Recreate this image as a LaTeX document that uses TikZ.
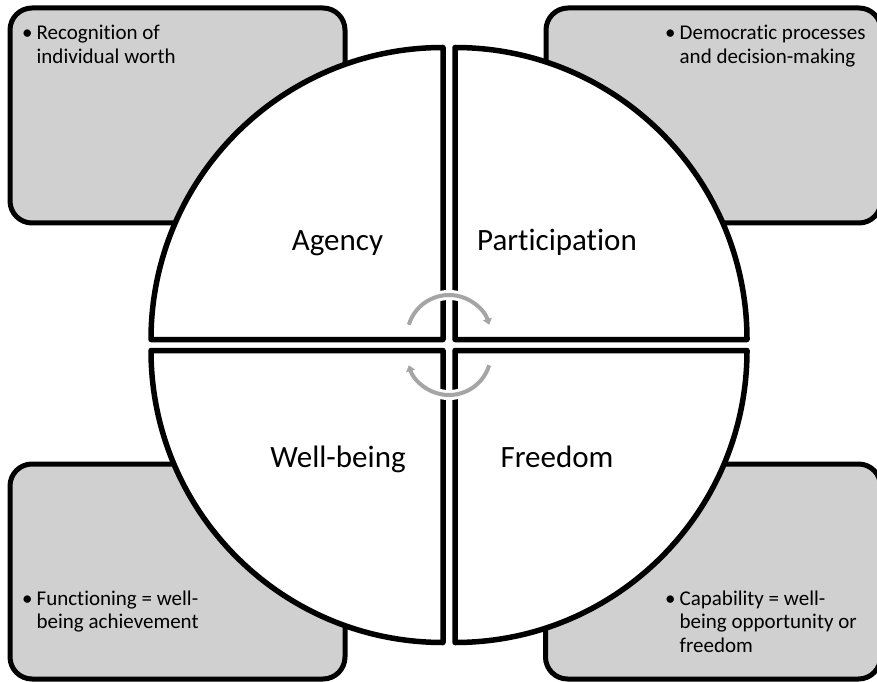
\documentclass[tikz,border=0pt]{standalone}
\usepackage{fontspec}
\setmainfont{Carlito}[Ligatures={NoCommon,NoContextual}]
\usetikzlibrary{arrows.meta}
\definecolor{boxgray}{RGB}{208,208,208}
\definecolor{arrowgray}{RGB}{165,165,165}
\begin{document}
\begin{tikzpicture}[x=1pt,y=1pt,
  infobox/.style={draw=black, fill=boxgray, line width=5pt, rounded corners=22pt, minimum width=335pt, minimum height=215pt, inner sep=0pt},
  quad/.style={draw=black, fill=white, line width=5.5pt, line join=round},
  qlabel/.style={font=\fontsize{31}{36}\selectfont, anchor=base},
  btext/.style={font=\fontsize{21}{23.5}\selectfont, anchor=base west, inner sep=0pt},
  casing/.style={draw=white, line width=10pt},
  cyclearrow/.style={draw=arrowgray, line width=4pt, -{Triangle[length=6pt,width=9pt]}}
]
\useasboundingbox (0,0) rectangle (877,681);
% grey boxes
\node[infobox] (tl) at (177.5,565.5) {};
\node[infobox] (tr) at (713.5,565.5) {};
\node[infobox] (bl) at (177.5,109.5) {};
\node[infobox] (br) at (713,109.5) {};
% quadrants
\draw[quad] (443,341.5) -- ++(-292,0) arc[start angle=180, end angle=90, radius=292pt] -- cycle;
\draw[quad] (455,341.5) -- ++(0,292) arc[start angle=90, end angle=0, radius=292pt] -- cycle;
\draw[quad] (443,330.5) -- ++(0,-292) arc[start angle=270, end angle=180, radius=292pt] -- cycle;
\draw[quad] (455,330.5) -- ++(292,0) arc[start angle=0, end angle=-90, radius=292pt] -- cycle;
% quadrant labels
\node[qlabel] (agency) at (337.5,431) {Agency};
\node[qlabel] (participation) at (557,431) {Participation};
\node[qlabel] (wellbeing) at (338,214) {Well-being};
\node[qlabel] (freedom) at (557,214) {Freedom};
% box texts
\node[btext] (tltext) at (22,641) {\begin{tabular}[t]{@{}l@{\hspace{4pt}}l@{}}•&Recognition of\\&individual worth\end{tabular}};
\node[btext] (trtext) at (665,641) {\begin{tabular}[t]{@{}l@{\hspace{4pt}}l@{}}•&Democratic processes\\&and decision-making\end{tabular}};
\node[btext] (bltext) at (22,76) {\begin{tabular}[t]{@{}l@{\hspace{4pt}}l@{}}•&Functioning = well-\\&being achievement\end{tabular}};
\node[btext] (brtext) at (665,76) {\begin{tabular}[t]{@{}l@{\hspace{4pt}}l@{}}•&Capability = well-\\&being opportunity or\\&freedom\end{tabular}};
% cycle arrows
\coordinate (c1) at (449,344);
\coordinate (c2) at (449,328);
\draw[casing] ([shift={(163:42pt)}]c1) arc[start angle=163, end angle=17, radius=42pt];
\draw[cyclearrow] ([shift={(163:42pt)}]c1) arc[start angle=163, end angle=17, radius=42pt];
\draw[casing] ([shift={(-17:42pt)}]c2) arc[start angle=-17, end angle=-163, radius=42pt];
\draw[cyclearrow] ([shift={(-17:42pt)}]c2) arc[start angle=-17, end angle=-163, radius=42pt];
\end{tikzpicture}
\end{document}
